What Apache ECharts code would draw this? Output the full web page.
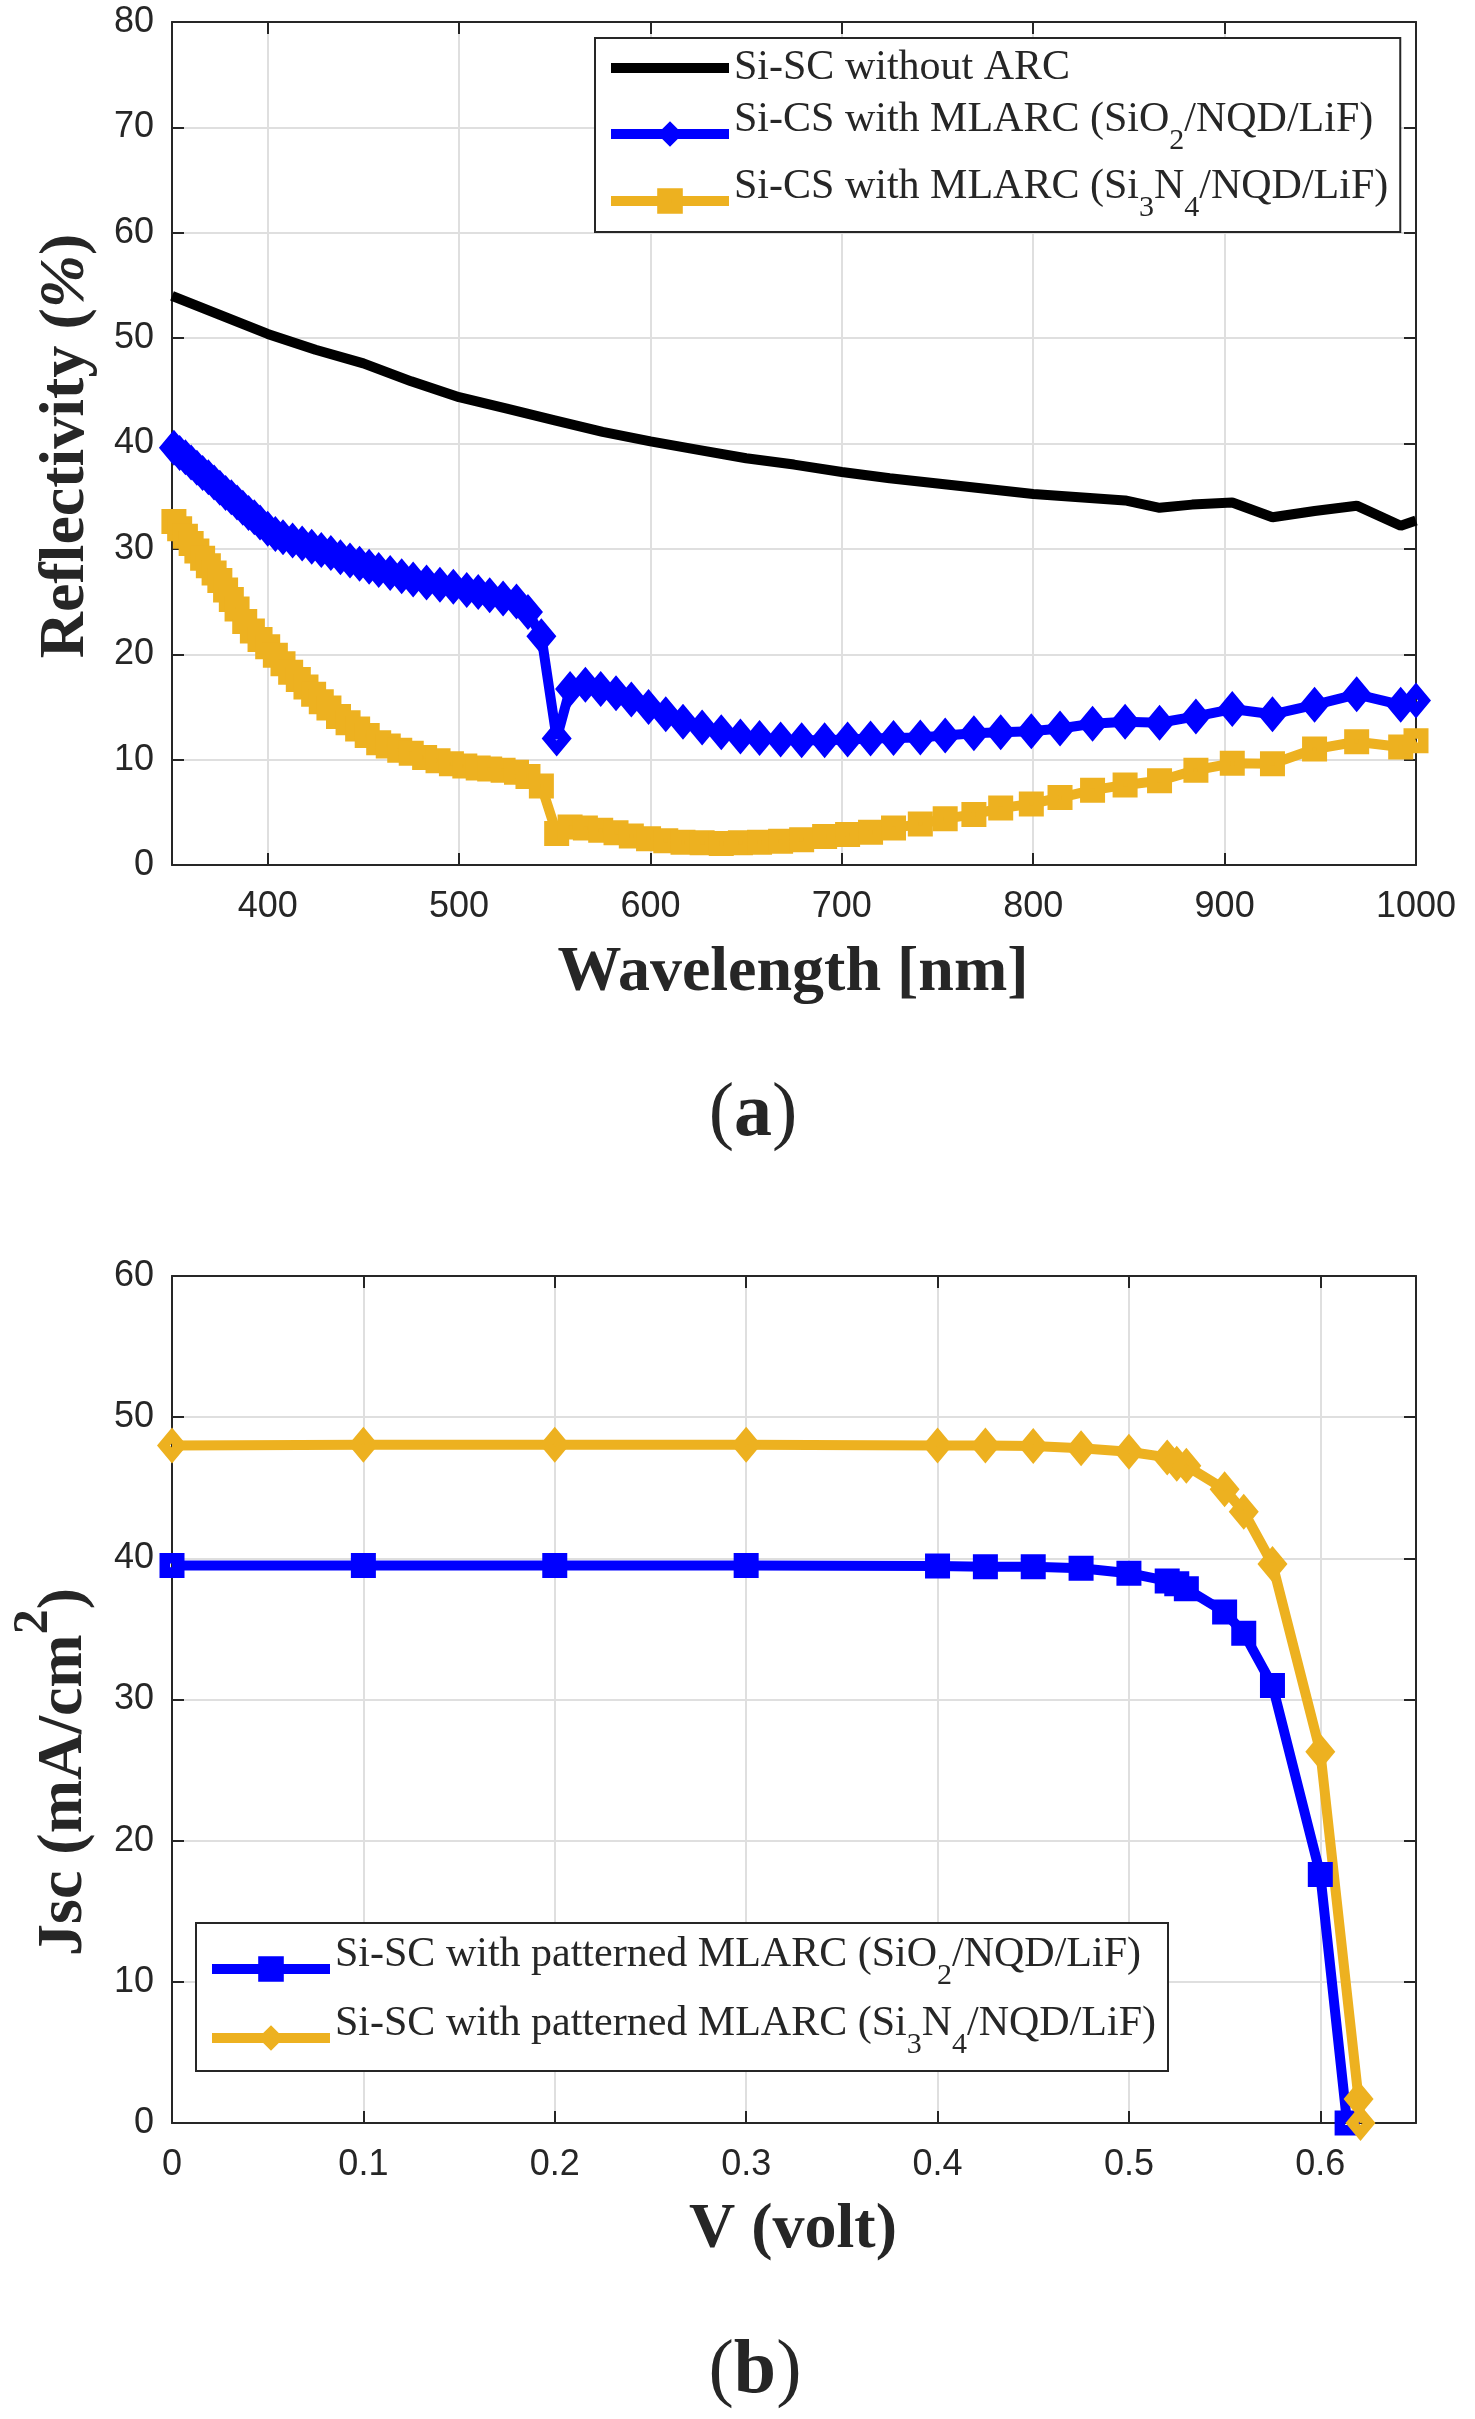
<!DOCTYPE html>
<html>
<head>
<meta charset="utf-8">
<title>Reflectivity and Jsc-V of Si solar cells with MLARC</title>
<script src="https://cdn.jsdelivr.net/npm/echarts@6.0.0/dist/echarts.min.js"></script>
<style>
  html, body { margin: 0; padding: 0; background: #ffffff; }
  #chart { width: 1475px; height: 2419px; }
</style>
</head>
<body>
<div id="chart"></div>
<script>
// ---- (a) reflectivity vs wavelength ----
var waveBlack = [350, 375, 400, 425, 450, 475, 500, 525, 550, 575, 600, 625, 650, 675, 700, 725, 750, 775, 800, 824, 848, 866, 883, 904, 925, 947, 969, 992, 1000];
var reflBlack = [54.0, 52.2, 50.4, 48.9, 47.6, 45.9, 44.4, 43.3, 42.2, 41.1, 40.2, 39.4, 38.6, 38.0, 37.3, 36.7, 36.2, 35.7, 35.2, 34.9, 34.6, 33.9, 34.2, 34.4, 33.0, 33.6, 34.1, 32.2, 32.7];

var waveSiO2 = [351, 354, 357, 360, 363, 366, 369, 372, 375, 378, 381, 384, 387, 390, 393, 396, 400, 404, 408, 413, 418, 423, 428, 433, 438, 443, 448, 453, 458, 464, 470, 476, 483, 490, 497, 504, 510, 516, 523, 530, 536, 543, 551, 558, 566, 574, 582, 590, 599, 608, 617, 627, 637, 647, 657, 668, 679, 691, 703, 715, 727, 741, 754, 769, 783, 799, 814, 831, 848, 866, 885, 904, 925, 947, 969, 992, 1000];
var reflSiO2 = [39.6, 39.1, 38.7, 38.2, 37.7, 37.2, 36.8, 36.3, 35.8, 35.3, 34.9, 34.4, 33.9, 33.4, 33.0, 32.5, 31.9, 31.4, 31.1, 30.8, 30.5, 30.2, 29.9, 29.6, 29.2, 28.9, 28.6, 28.3, 28.0, 27.7, 27.4, 27.1, 26.8, 26.6, 26.4, 26.1, 25.9, 25.6, 25.3, 25.0, 24.0, 21.7, 12.0, 16.7, 17.1, 16.7, 16.3, 15.7, 15.0, 14.3, 13.6, 13.05, 12.6, 12.2, 12.05, 11.9, 11.85, 11.85, 11.9, 12.0, 12.05, 12.1, 12.3, 12.5, 12.6, 12.7, 12.95, 13.4, 13.6, 13.5, 14.1, 14.8, 14.3, 15.2, 16.2, 15.2, 15.6];

var waveSi3N4 = [351, 354, 357, 360, 363, 366, 369, 372, 375, 378, 381, 384, 388, 392, 396, 400, 404, 408, 412, 416, 420, 424, 428, 432, 437, 442, 447, 452, 458, 463, 469, 475, 482, 489, 496, 503, 510, 516, 523, 530, 536, 543, 551, 558, 566, 574, 582, 590, 599, 608, 617, 627, 637, 647, 657, 668, 679, 691, 703, 715, 727, 741, 754, 769, 783, 799, 814, 831, 848, 866, 885, 904, 925, 947, 969, 992, 1000];
var reflSi3N4 = [32.6, 31.9, 31.2, 30.5, 29.8, 29.1, 28.4, 27.7, 27.0, 26.1, 25.2, 24.3, 23.1, 22.2, 21.4, 20.7, 19.9, 19.1, 18.3, 17.6, 16.9, 16.2, 15.5, 14.9, 14.1, 13.5, 12.9, 12.3, 11.6, 11.3, 10.9, 10.6, 10.2, 9.9, 9.6, 9.4, 9.2, 9.1, 9.0, 8.8, 8.4, 7.5, 3.0, 3.6, 3.5, 3.3, 3.05, 2.75, 2.5, 2.3, 2.15, 2.1, 2.05, 2.1, 2.15, 2.25, 2.4, 2.7, 2.9, 3.1, 3.5, 3.9, 4.4, 4.8, 5.4, 5.8, 6.4, 7.1, 7.6, 8.0, 9.0, 9.65, 9.6, 11.0, 11.7, 11.2, 11.8];

var wavelengthTicks = [400, 500, 600, 700, 800, 900, 1000];

// ---- (b) Jsc vs voltage ----
var voltSiO2 = [0, 0.1, 0.2, 0.3, 0.4, 0.425, 0.45, 0.475, 0.5, 0.52, 0.525, 0.53, 0.55, 0.56, 0.575, 0.6, 0.614];
var jscSiO2 = [39.5, 39.5, 39.5, 39.5, 39.45, 39.4, 39.4, 39.3, 38.95, 38.4, 38.2, 37.85, 36.2, 34.7, 31.0, 17.6, 0];

var voltSi3N4 = [0, 0.1, 0.2, 0.3, 0.4, 0.425, 0.45, 0.475, 0.5, 0.52, 0.525, 0.53, 0.55, 0.56, 0.575, 0.6, 0.62, 0.621];
var jscSi3N4 = [48.0, 48.05, 48.05, 48.05, 48.0, 48.0, 47.95, 47.8, 47.55, 47.15, 46.7, 46.55, 44.9, 43.3, 39.6, 26.3, 1.7, 0];

var voltTicks = [0, 0.1, 0.2, 0.3, 0.4, 0.5, 0.6];

var INK = '#262626';
var GRID_LINE = '#dfdfdf';
var BLUE = '#0000ff';
var GOLD = '#edb120';
var SANS = 'Liberation Sans, Arial, sans-serif';
var SERIF = 'Liberation Serif, Times New Roman, serif';
var LINE_W = 10;

// marker shapes with a tiny hole in the middle, like the thick-edged matlab markers
var diamondMark = 'path://M0,-16L13,0L0,16L-13,0ZM0,-1.8L-1.8,0L0,1.8L1.8,0Z';
var squareMark = 'path://M-11,-11H11V11H-11ZM-1.7,-1.7V1.7H1.7V-1.7Z';
var diamondSize = [30, 36];
var squareSize = [25, 25];

function zip(xs, ys) {
  var out = [];
  for (var i = 0; i < xs.length; i++) out.push([xs[i], ys[i]]);
  return out;
}

function onTick(list) {
  return function (v) {
    for (var i = 0; i < list.length; i++) {
      if (Math.abs(list[i] - v) < 1e-9) return String(list[i]);
    }
    return '';
  };
}

var axisLine = { show: true, onZero: false, lineStyle: { color: INK, width: 2 } };
var axisTick = { show: true, inside: true, length: 12, lineStyle: { color: INK, width: 2 } };

function xAxes(gi, min, max, ticks, step) {
  var base = { type: 'value', gridIndex: gi, min: min, max: max, axisLine: axisLine, axisTick: axisTick };
  if (step) base.interval = step; else base.splitNumber = 7;
  return [
    Object.assign({}, base, {
      position: 'bottom',
      axisLabel: { show: true, margin: 24, color: INK, fontFamily: SANS, fontSize: 36, formatter: onTick(ticks) },
      splitLine: { show: true, lineStyle: { color: GRID_LINE, width: 2 } }
    }),
    Object.assign({}, base, { position: 'top', axisLabel: { show: false }, splitLine: { show: false } })
  ];
}

function yAxes(gi, max) {
  var base = { type: 'value', gridIndex: gi, min: 0, max: max, interval: 10, axisLine: axisLine, axisTick: axisTick };
  return [
    Object.assign({}, base, {
      position: 'left',
      axisLabel: { show: true, margin: 18, color: INK, fontFamily: SANS, fontSize: 36 },
      splitLine: { show: true, lineStyle: { color: GRID_LINE, width: 2 } }
    }),
    Object.assign({}, base, { position: 'right', axisLabel: { show: false }, splitLine: { show: false } })
  ];
}

var legendRich = {
  p: { fontFamily: SERIF, fontSize: 42, lineHeight: 44, color: INK },
  m: { fontFamily: SERIF, fontSize: 42, lineHeight: 44, color: INK, verticalAlign: 'bottom', padding: [0, 0, 15, 0] },
  s: { fontFamily: SERIF, fontSize: 30, lineHeight: 30, color: INK, verticalAlign: 'bottom' }
};

var legendText = {
  'Si-SC without ARC': '{p|Si-SC without ARC}',
  'Si-CS with MLARC (SiO2/NQD/LiF)': '{m|Si-CS with MLARC (SiO}{s|2}{m|/NQD/LiF)}',
  'Si-CS with MLARC (Si3N4/NQD/LiF)': '{m|Si-CS with MLARC (Si}{s|3}{m|N}{s|4}{m|/NQD/LiF)}',
  'Si-SC with patterned MLARC (SiO2/NQD/LiF)': '{m|Si-SC with patterned MLARC (SiO}{s|2}{m|/NQD/LiF)}',
  'Si-SC with patterned MLARC (Si3N4/NQD/LiF)': '{m|Si-SC with patterned MLARC (Si}{s|3}{m|N}{s|4}{m|/NQD/LiF)}'
};

var legendBase = {
  orient: 'vertical',
  itemWidth: 118,
  itemHeight: 32,
  itemGap: 10,
  borderColor: INK,
  borderWidth: 2,
  backgroundColor: '#ffffff',
  selectedMode: false,
  lineStyle: { width: LINE_W },
  formatter: function (name) { return legendText[name] || name; },
  textStyle: { color: INK, fontFamily: SERIF, fontSize: 42, rich: legendRich }
};

var chart = echarts.init(document.getElementById('chart'));

chart.setOption({
  animation: false,
  backgroundColor: '#ffffff',
  grid: [
    { left: 172, top: 22, width: 1244, height: 843 },
    { left: 172, top: 1276, width: 1244, height: 847 }
  ],
  xAxis: xAxes(0, 350, 1000, wavelengthTicks, null).concat(xAxes(1, 0, 0.65, voltTicks, 0.1)),
  yAxis: yAxes(0, 80).concat(yAxes(1, 60)),
  legend: [
    Object.assign({}, legendBase, {
      left: 595, top: 38, padding: [9, 12, 9, 11],
      data: [
        { name: 'Si-SC without ARC', icon: 'path://M0,0H118V10H0Z' },
        'Si-CS with MLARC (SiO2/NQD/LiF)',
        'Si-CS with MLARC (Si3N4/NQD/LiF)'
      ]
    }),
    Object.assign({}, legendBase, {
      left: 196, top: 1923, padding: [11, 12, 11, 11], itemGap: 12,
      data: ['Si-SC with patterned MLARC (SiO2/NQD/LiF)', 'Si-SC with patterned MLARC (Si3N4/NQD/LiF)']
    })
  ],
  series: [
    {
      name: 'Si-SC without ARC', type: 'line', xAxisIndex: 0, yAxisIndex: 0,
      data: zip(waveBlack, reflBlack), symbol: 'none',
      lineStyle: { color: '#000000', width: LINE_W }, itemStyle: { color: '#000000' }
    },
    {
      name: 'Si-CS with MLARC (SiO2/NQD/LiF)', type: 'line', xAxisIndex: 0, yAxisIndex: 0,
      data: zip(waveSiO2, reflSiO2), symbol: diamondMark, symbolSize: diamondSize, showAllSymbol: true,
      lineStyle: { color: BLUE, width: LINE_W }, itemStyle: { color: BLUE }
    },
    {
      name: 'Si-CS with MLARC (Si3N4/NQD/LiF)', type: 'line', xAxisIndex: 0, yAxisIndex: 0,
      data: zip(waveSi3N4, reflSi3N4), symbol: squareMark, symbolSize: squareSize, showAllSymbol: true,
      lineStyle: { color: GOLD, width: LINE_W }, itemStyle: { color: GOLD }
    },
    {
      name: 'Si-SC with patterned MLARC (SiO2/NQD/LiF)', type: 'line', xAxisIndex: 2, yAxisIndex: 2,
      data: zip(voltSiO2, jscSiO2), symbol: squareMark, symbolSize: squareSize, showAllSymbol: true,
      lineStyle: { color: BLUE, width: LINE_W }, itemStyle: { color: BLUE }
    },
    {
      name: 'Si-SC with patterned MLARC (Si3N4/NQD/LiF)', type: 'line', xAxisIndex: 2, yAxisIndex: 2,
      data: zip(voltSi3N4, jscSi3N4), symbol: diamondMark, symbolSize: diamondSize, showAllSymbol: true,
      lineStyle: { color: GOLD, width: LINE_W }, itemStyle: { color: GOLD }
    }
  ],
  graphic: [
    {
      type: 'text', x: 793, y: 973,
      style: { text: 'Wavelength [nm]', fontFamily: SERIF, fontWeight: 'bold', fontSize: 64, fill: INK,
        align: 'center', verticalAlign: 'middle', textAlign: 'center', textVerticalAlign: 'middle' }
    },
    {
      type: 'text', x: 66, y: 446, rotation: Math.PI / 2,
      style: {
        text: '{b|Reflectivity (}{i|%}{b|)}', fill: INK,
        align: 'center', verticalAlign: 'middle', textAlign: 'center', textVerticalAlign: 'middle',
        rich: {
          b: { fontFamily: SERIF, fontWeight: 'bold', fontSize: 64, lineHeight: 64, fill: INK, color: INK },
          i: { fontFamily: SERIF, fontWeight: 'bold', fontStyle: 'italic', fontSize: 64, lineHeight: 64, fill: INK, color: INK }
        }
      }
    },
    {
      type: 'text', x: 753, y: 1115,
      style: {
        text: '{r|(}{b|a}{r|)}', fill: INK,
        align: 'center', verticalAlign: 'middle', textAlign: 'center', textVerticalAlign: 'middle',
        rich: {
          r: { fontFamily: SERIF, fontSize: 76, lineHeight: 80, fill: INK, color: INK },
          b: { fontFamily: SERIF, fontWeight: 'bold', fontSize: 76, lineHeight: 80, fill: INK, color: INK }
        }
      }
    },
    {
      type: 'text', x: 793, y: 2230,
      style: { text: 'V (volt)', fontFamily: SERIF, fontWeight: 'bold', fontSize: 64, fill: INK,
        align: 'center', verticalAlign: 'middle', textAlign: 'center', textVerticalAlign: 'middle' }
    },
    {
      // superscript raised by bottom padding on its token (all tokens middle aligned)
      type: 'text', x: 64, y: 1772, rotation: Math.PI / 2,
      style: {
        text: '{m|Jsc (mA/cm}{s|2}{m|)}', fill: INK,
        align: 'center', verticalAlign: 'middle', textAlign: 'center', textVerticalAlign: 'middle',
        rich: {
          m: { fontFamily: SERIF, fontWeight: 'bold', fontSize: 64, lineHeight: 64, verticalAlign: 'middle', fill: INK, color: INK },
          s: { fontFamily: SERIF, fontWeight: 'bold', fontSize: 50, lineHeight: 50, verticalAlign: 'middle', padding: [0, 0, 60, 0], fill: INK, color: INK }
        }
      }
    },
    {
      type: 'text', x: 755, y: 2372,
      style: {
        text: '{r|(}{b|b}{r|)}', fill: INK,
        align: 'center', verticalAlign: 'middle', textAlign: 'center', textVerticalAlign: 'middle',
        rich: {
          r: { fontFamily: SERIF, fontSize: 76, lineHeight: 80, fill: INK, color: INK },
          b: { fontFamily: SERIF, fontWeight: 'bold', fontSize: 76, lineHeight: 80, fill: INK, color: INK }
        }
      }
    }
  ]
});
</script>
</body>
</html>
